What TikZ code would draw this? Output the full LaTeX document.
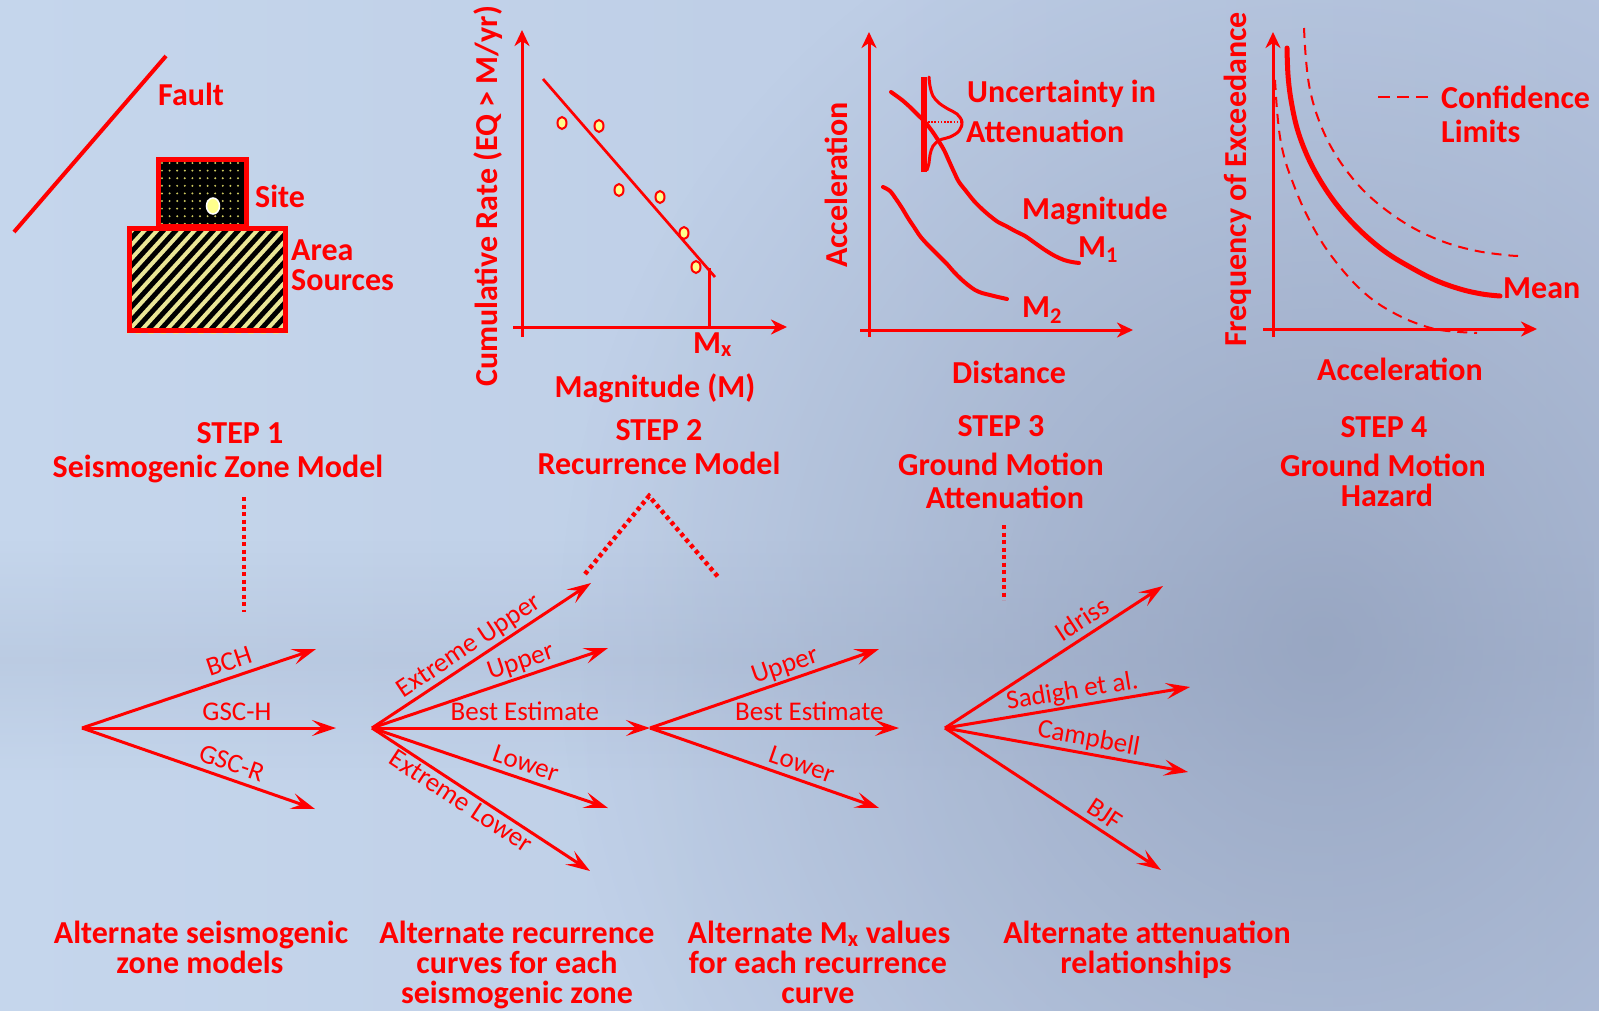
\documentclass[tikz,border=0pt]{standalone}
\usepackage{fontspec}
\setmainfont{Carlito}
\usetikzlibrary{arrows.meta,fadings}

\definecolor{bgLeft}{RGB}{197,214,236}
\definecolor{bgRight}{RGB}{184,199,225}
\definecolor{bgDeep}{RGB}{148,162,190}
\definecolor{hazRed}{RGB}{255,0,0}
\definecolor{dotYellow}{RGB}{255,255,140}
\definecolor{stripeYellow}{RGB}{234,230,150}
\definecolor{grainYellow}{RGB}{205,200,95}

\tikzfading[name=softblob, inner color=transparent!0, outer color=transparent!100]
\tikzfading[name=softband, top color=transparent!100, bottom color=transparent!100, middle color=transparent!0]

\tikzset{
  lbl/.style={text=hazRed, font=\fontsize{32}{32}\selectfont\bfseries, inner sep=0pt},
  steplbl/.style={lbl, anchor=base},
  notelbl/.style={lbl, anchor=base},
  axisarrow/.style={draw=hazRed, line width=3pt, -{Stealth[length=16pt,width=15pt,inset=5pt]}},
  treearrow/.style={draw=hazRed, line width=3pt, -{Stealth[length=24pt,width=16pt,inset=10pt]}},
  brlbl/.style={text=hazRed, font=\fontsize{27}{27}\selectfont, sloped, inner sep=1pt, text height=18pt, text depth=5pt},
  dotline/.style={draw=hazRed, line width=4.5pt, dash pattern=on 4pt off 3.5pt},
  datum/.style={draw=hazRed, fill=dotYellow, line width=2pt},
  handline/.style={draw=hazRed, line width=4pt, line cap=round, line join=round},
  confline/.style={draw=hazRed, line width=2pt, dash pattern=on 10pt off 7pt},
}

\begin{document}
\begin{tikzpicture}[x=1pt,y=-1pt]
\useasboundingbox (0,0) rectangle (1599,1010);

% ---------- backdrop ----------
\shade[left color=bgLeft, right color=bgRight] (0,0) rectangle (1599,1010);
\fill[bgDeep, path fading=softband, fill opacity=0.2] (0,540) rectangle (1599,780);
\fill[bgDeep, path fading=softblob, fill opacity=0.85] (1320,640) ellipse (760 and 800);

% ---------- step 1: sources ----------
\coordinate (faultA) at (14,232);
\coordinate (faultB) at (166,56);
\draw[hazRed, line width=4pt] (faultA) -- (faultB);
\node[lbl, anchor=base west] (faultlbl) at (158,105) {Fault};

% site block with speckled fill
\fill[black] (156,157) rectangle (249,227);
\foreach \i in {0,...,11} \foreach \j in {0,...,8}
  \fill[grainYellow] (162+7.6*\i, 163+7.6*\j) circle (1.1);
\draw[hazRed, line width=5pt] (158.5,159.5) rectangle (246.5,226);
\draw[white, line width=1.5pt, fill=dotYellow] (213,206) ellipse (6.5 and 8);
\node[lbl, anchor=base west] (sitelbl) at (255,207) {Site};

% area source with hatching
\begin{scope}
  \clip (127,226) rectangle (288,333);
  \fill[black] (127,226) rectangle (288,333);
  \foreach \k in {-10,...,16}
    \draw[stripeYellow, line width=4pt] (120+12.5*\k,340) -- ++(110,-121);
\end{scope}
\draw[hazRed, line width=5pt] (129.5,228.5) rectangle (285.5,330.5);
\node[lbl, anchor=base west] (arealbl) at (291,260) {Area};
\node[lbl, anchor=base west] (sourceslbl) at (291,290) {Sources};

% ---------- step 2: recurrence ----------
\coordinate (rYa) at (522,337);
\coordinate (rYb) at (522,30);
\coordinate (rXa) at (513,327);
\coordinate (rXb) at (787,327);
\draw[axisarrow] (rYa) -- (rYb);
\draw[axisarrow] (rXa) -- (rXb);
\coordinate (fitA) at (543,79);
\coordinate (fitB) at (715,277);
\draw[hazRed, line width=2.7pt] (fitA) -- (fitB);
\coordinate (mxTop) at (709,268);
\coordinate (mxBot) at (709,327);
\draw[hazRed, line width=3pt] (mxTop) -- (mxBot);
\foreach \p in {(562,123),(599,126),(619,190),(660,197),(684,233),(696,267)}
  \draw[datum] \p ellipse (4.5 and 6);
\node[lbl, anchor=base west] (mxlbl) at (693,353) {M\textsubscript{x}};
\node[lbl, anchor=base] (maglbl) at (655,397) {Magnitude (M)};
\node[lbl, rotate=90, anchor=base west] (ratelbl) at (497,387) {Cumulative Rate (EQ > M/yr)};

% ---------- step 3: attenuation ----------
\coordinate (aYa) at (869,337);
\coordinate (aYb) at (869,32);
\coordinate (aXa) at (860,330);
\coordinate (aXb) at (1133,330);
\draw[axisarrow] (aYa) -- (aYb);
\draw[axisarrow] (aXa) -- (aXb);
\draw[handline] plot[smooth, tension=0.55] coordinates {
  (891,92) (902,100) (911,108) (918,115) (925,122) (932,131) (938,140) (944,150)
  (949,161) (954,172) (959,182) (966,191) (974,201) (982,209) (990,216) (998,222)
  (1006,226) (1015,231) (1025,236) (1035,243) (1045,250) (1055,256) (1064,260)
  (1072,262) (1079,263)};
\draw[handline] plot[smooth, tension=0.55] coordinates {
  (883,187) (890,191) (896,199) (902,208) (908,218) (914,227) (920,236) (927,244)
  (934,251) (940,257) (947,264) (954,272) (961,279) (968,285) (975,290) (982,293)
  (990,295) (998,297) (1007,299)};
\coordinate (barTop) at (924,77);
\coordinate (barBot) at (924,172);
\draw[hazRed, line width=6pt] (barTop) -- (barBot);
\draw[hazRed, line width=3pt, line cap=round] plot[smooth, tension=0.6] coordinates {
  (929,77) (930,86) (933,96) (939,103) (948,109) (957,114) (962,122) (959,131)
  (950,137) (940,140) (933,146) (930,155) (929,163) (927,170)};
\coordinate (peakL) at (928,122);
\coordinate (peakR) at (961,122);
\draw[hazRed, line width=1.6pt, dash pattern=on 1.6pt off 1.6pt] (peakL) -- (peakR);
\node[lbl, anchor=base west] (unclbl) at (967,102) {Uncertainty in};
\node[lbl, anchor=base west] (attlbl) at (966,142) {Attenuation};
\node[lbl, anchor=base west] (magtlbl) at (1022,219) {Magnitude};
\node[lbl, anchor=base west] (m1lbl) at (1078,257) {M\textsubscript{1}};
\node[lbl, anchor=base west] (m2lbl) at (1022,317) {M\textsubscript{2}};
\node[lbl, anchor=base] (distlbl) at (1009,383) {Distance};
\node[lbl, rotate=90, anchor=base west] (acclbl) at (847,268) {Acceleration};

% ---------- step 4: hazard ----------
\coordinate (hYa) at (1273,337);
\coordinate (hYb) at (1273,32);
\coordinate (hXa) at (1263,329);
\coordinate (hXb) at (1537,329);
\draw[axisarrow] (hYa) -- (hYb);
\draw[axisarrow] (hXa) -- (hXb);
\draw[hazRed, line width=5pt, line cap=round] plot[smooth, tension=0.6] coordinates {
  (1287,48) (1288,75) (1291,100) (1297,128) (1306,153) (1317,175) (1331,197)
  (1347,217) (1366,236) (1387,253) (1410,267) (1435,280) (1460,289) (1482,294) (1500,296)};
\draw[confline] plot[smooth, tension=0.6] coordinates {
  (1304,28) (1306,60) (1310,90) (1318,118) (1330,145) (1346,170) (1366,193)
  (1390,213) (1417,230) (1447,243) (1477,251) (1505,255) (1518,256)};
\draw[confline] plot[smooth, tension=0.6] coordinates {
  (1275,80) (1277,110) (1280,137) (1285,160) (1293,183) (1302,205) (1313,227)
  (1325,247) (1340,267) (1356,285) (1373,300) (1392,312) (1413,322) (1440,330) (1477,333)};
\coordinate (keyA) at (1378,97);
\coordinate (keyB) at (1428,97);
\draw[hazRed, line width=2pt, dash pattern=on 12pt off 7pt] (keyA) -- (keyB);
\node[lbl, anchor=base west] (conflbl) at (1441,108) {Confidence};
\node[lbl, anchor=base west] (limlbl) at (1441,142) {Limits};
\node[lbl, anchor=base west] (meanlbl) at (1503,298) {Mean};
\node[lbl, anchor=base] (hacclbl) at (1400,380) {Acceleration};
\node[lbl, rotate=90, anchor=base west] (freqlbl) at (1246,347) {Frequency of Exceedance};

% ---------- step captions ----------
\node[steplbl] (s1a) at (240,443) {STEP 1};
\node[steplbl] (s1b) at (218,477) {Seismogenic Zone Model};
\node[steplbl] (s2a) at (659,440) {STEP 2};
\node[steplbl] (s2b) at (659,474) {Recurrence Model};
\node[steplbl] (s3a) at (1001,436) {STEP 3};
\node[steplbl] (s3b) at (1001,475) {Ground Motion};
\node[steplbl] (s3c) at (1005,508) {Attenuation};
\node[steplbl] (s4a) at (1384,437) {STEP 4};
\node[steplbl] (s4b) at (1383,476) {Ground Motion};
\node[steplbl] (s4c) at (1387,506) {Hazard};

% ---------- dotted links to the logic tree ----------
\coordinate (d1a) at (244,497);
\coordinate (d1b) at (244,612);
\draw[dotline] (d1a) -- (d1b);
\coordinate (apex) at (649,496);
\coordinate (apexL) at (585,574);
\coordinate (apexR) at (719,578);
\draw[dotline] (apexL) -- (apex) -- (apexR);
\coordinate (d3a) at (1004,525);
\coordinate (d3b) at (1004,600);
\draw[dotline] (d3a) -- (d3b);

% ---------- logic tree ----------
\coordinate (root1) at (82,728);
\coordinate (root2) at (372,728);
\coordinate (root3) at (650,728);
\coordinate (root4) at (945,728);

\coordinate (bch) at (316,649);
\coordinate (gsch) at (336,728);
\coordinate (gscr) at (315,809);
\draw[treearrow] (root1) -- node[brlbl, pos=0.65, above] {BCH} (bch);
\draw[treearrow] (root1) -- node[brlbl, pos=0.61, above] {GSC-H} (gsch);
\draw[treearrow] (root1) -- node[brlbl, pos=0.62, above] {GSC-R} (gscr);

\coordinate (xup) at (591,583);
\coordinate (up) at (608,648);
\coordinate (lo) at (608,808);
\coordinate (xlo) at (590,871);
\draw[treearrow] (root2) -- node[brlbl, pos=0.48, above] {Extreme Upper} (xup);
\draw[treearrow] (root2) -- node[brlbl, pos=0.65, above] {Upper} (up);
\draw[treearrow] (root2) -- node[brlbl, pos=0.55, above] {Best Estimate} (root3);
\draw[treearrow] (root2) -- node[brlbl, pos=0.63, above] {Lower} (lo);
\draw[treearrow] (root2) -- node[brlbl, pos=0.44, below] {Extreme Lower} (xlo);

\coordinate (mup) at (879,649);
\coordinate (mbest) at (899,728);
\coordinate (mlo) at (879,808);
\draw[treearrow] (root3) -- node[brlbl, pos=0.61, above] {Upper} (mup);
\draw[treearrow] (root3) -- node[brlbl, pos=0.64, above] {Best Estimate} (mbest);
\draw[treearrow] (root3) -- node[brlbl, pos=0.64, above] {Lower} (mlo);

\coordinate (idr) at (1163,586);
\coordinate (sad) at (1190,687);
\coordinate (cam) at (1188,772);
\coordinate (bjf) at (1161,870);
\draw[treearrow] (root4) -- node[brlbl, pos=0.67, above] {Idriss} (idr);
\draw[treearrow] (root4) -- node[brlbl, pos=0.53, above] {Sadigh et al.} (sad);
\draw[treearrow] (root4) -- node[brlbl, pos=0.58, above] {Campbell} (cam);
\draw[treearrow] (root4) -- node[brlbl, pos=0.70, above] {BJF} (bjf);

% ---------- notes under the tree ----------
\node[notelbl] (n1a) at (201,943) {Alternate seismogenic};
\node[notelbl] (n1b) at (200,973) {zone models};
\node[notelbl] (n2a) at (517,943) {Alternate recurrence};
\node[notelbl] (n2b) at (517,973) {curves for each};
\node[notelbl] (n2c) at (517,1003) {seismogenic zone};
\node[notelbl] (n3a) at (819,943) {Alternate M\textsubscript{x} values};
\node[notelbl] (n3b) at (818,973) {for each recurrence};
\node[notelbl] (n3c) at (818,1003) {curve};
\node[notelbl] (n4a) at (1147,943) {Alternate attenuation};
\node[notelbl] (n4b) at (1146,973) {relationships};
\end{tikzpicture}
\end{document}
